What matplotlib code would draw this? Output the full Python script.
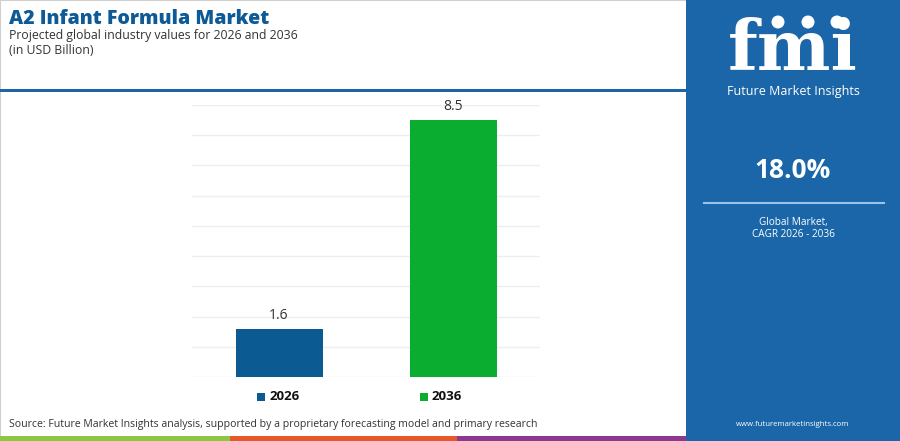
import matplotlib.pyplot as plt
from matplotlib.patches import Rectangle, Ellipse
import numpy as np

years = ["2026", "2036"]
values = [1.6, 8.5]
bar_colors = ["#0b5a91", "#0aad2f"]
cagr = "18.0%"

title = "A2 Infant Formula Market"
subtitle = "Projected global industry values for 2026 and 2036"
unit = "(in USD Billion)"
source = "Source: Future Market Insights analysis, supported by a proprietary forecasting model and primary research"

W, H = 900, 441
panel_c = "#1a66a8"
title_c = "#0d5a96"

plt.rcParams['font.family'] = ['Open Sans', 'DejaVu Sans']

fig = plt.figure(figsize=(W / 100, H / 100), dpi=100)


def fx(x):
    return x / W


def fy(y):
    return 1 - y / H


# background frame and header rule
fig.patches.append(Rectangle((0, 0), 1, 1, transform=fig.transFigure,
                             facecolor="white", edgecolor="#d0d0d0", lw=1.5))
fig.patches.append(Rectangle((0, fy(92)), fx(686), 3 / H, transform=fig.transFigure,
                             facecolor="#1f64a6", edgecolor="none"))

# bottom color strip
for x0, x1, c in [(0, 230, "#8dc63f"), (230, 457, "#e8582a"), (457, 686, "#8b3a8f")]:
    fig.patches.append(Rectangle((fx(x0), 0), fx(x1 - x0), 5 / H, transform=fig.transFigure,
                                 facecolor=c, edgecolor="none"))

# right panel
fig.patches.append(Rectangle((fx(686), 0), 1 - fx(686), 1, transform=fig.transFigure,
                             facecolor=panel_c, edgecolor="none"))

# titles
fig.text(fx(9), fy(19), title, fontsize=14, fontweight="heavy", color=title_c, va="center")
fig.text(fx(9), fy(36), subtitle, fontsize=8.8, color="#333333", va="center")
fig.text(fx(9), fy(51), unit, fontsize=8.8, color="#333333", va="center")

# chart
ax = fig.add_axes([fx(192), fy(377), fx(540 - 192), (377 - 105) / H])
ax.set_zorder(5)
ax.patch.set_alpha(0)
x = np.arange(len(years))
bars = ax.bar(x, values, width=0.5, color=bar_colors, zorder=3)
for xi, v in zip(x, values):
    ax.text(xi, v + 0.2, f"{v:.1f}", ha="center", va="bottom", fontsize=10, color="#333333")
ax.set_xlim(-0.5, 1.5)
ax.set_ylim(0, 9)
ax.set_yticks(np.arange(0, 10, 1))
ax.grid(axis="y", color="#eeeeee", lw=1, zorder=0)
ax.set_xticks([])
ax.tick_params(left=False, labelleft=False)
for s in ax.spines.values():
    s.set_visible(False)

# legend
for (sx, tx), yr, c in zip([(257, 270), (420, 432)], years, bar_colors):
    fig.patches.append(Rectangle((fx(sx), fy(401)), fx(8), 8 / H, transform=fig.transFigure,
                                 facecolor=c, edgecolor="none"))
    fig.text(fx(tx), fy(397), yr, fontsize=9.5, fontweight="bold", color="#111111", va="center")

fig.text(fx(9), fy(425), source, fontsize=7.6, color="#333333", va="center")

# panel content
cx = fx(793)
fig.text(cx, fy(50), "fmi", fontsize=50, fontweight="bold", family="DejaVu Serif",
         color="white", ha="center", va="center")
for yy in range(28, 80, 5):
    fig.patches.append(Rectangle((fx(715), fy(yy)), fx(145), 1.4 / H, transform=fig.transFigure,
                                 facecolor=panel_c, edgecolor="none"))
for gx in [778, 808, 837]:
    fig.patches.append(Ellipse((fx(gx), fy(22)), 13 / W, 13 / H, transform=fig.transFigure,
                               facecolor="white", edgecolor="none"))
fig.text(cx, fy(92), "Future Market Insights", fontsize=9, color="white", ha="center", va="center")
fig.text(cx, fy(170), cagr, fontsize=19, fontweight="bold", color="white", ha="center", va="center")
fig.add_artist(plt.Line2D([fx(704), fx(884)], [fy(203), fy(203)], transform=fig.transFigure,
                          color="#9cc3e6", lw=1.5))
fig.text(cx, fy(222), "Global Market,", fontsize=7.2, color="white", ha="center", va="center")
fig.text(cx, fy(234), "CAGR 2026 - 2036", fontsize=7.2, color="white", ha="center", va="center")
fig.text(cx, fy(425), "www.futuremarketinsights.com", fontsize=5.6, color="white", ha="center", va="center")

fig.savefig("out.png", dpi=100)
